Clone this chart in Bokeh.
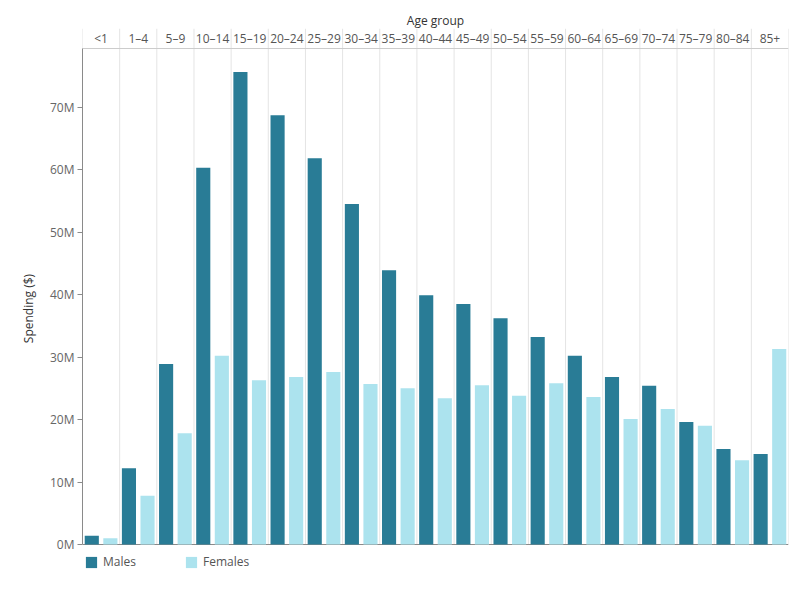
from bokeh.plotting import figure
from bokeh.models import (FactorRange, Range1d, Span, FixedTicker, PrintfTickFormatter,
                          Legend, LegendItem, ColumnDataSource)
from bokeh.embed import file_html
from bokeh.resources import INLINE
from bokeh.core.properties import value

# Spending by age group and sex, in millions of dollars
age_groups = ["<1", "1–4", "5–9", "10–14", "15–19", "20–24", "25–29", "30–34", "35–39",
              "40–44", "45–49", "50–54", "55–59", "60–64", "65–69", "70–74", "75–79",
              "80–84", "85+"]
males_m = [1.4, 12.2, 28.9, 60.3, 75.6, 68.7, 61.8, 54.5, 43.9, 39.9, 38.5, 36.2, 33.2,
           30.2, 26.8, 25.4, 19.6, 15.3, 14.5]
females_m = [1.0, 7.8, 17.8, 30.2, 26.3, 26.8, 27.6, 25.7, 25.0, 23.4, 25.5, 23.8, 25.8,
             23.6, 20.1, 21.7, 19.0, 13.5, 31.3]
sexes = ["Males", "Females"]
y_ticks = [0, 10, 20, 30, 40, 50, 60, 70]

MALE_COLOR = "#297C96"
FEMALE_COLOR = "#ACE3EE"
FONT = "Open Sans"

# value scale top, header strip above it, and room for the legend below zero
PLOT_TOP = 79.36
FRAME_TOP = 82.56
FRAME_BOTTOM = -7.04

factors = [(a, s) for a in age_groups for s in sexes]
x_range = FactorRange(*factors, range_padding=0, group_padding=0, factor_padding=0)

p = figure(width=800, height=600, x_range=x_range, y_range=Range1d(FRAME_BOTTOM, FRAME_TOP),
           output_backend="svg", toolbar_location=None,
           min_border_left=82, min_border_right=12, min_border_top=28, min_border_bottom=12)

p.title.text = "Age group"
p.title.align = "center"
p.title.text_font = FONT
p.title.text_font_size = "12px"
p.title.text_font_style = "normal"
p.title.text_color = "#333333"
p.title.standoff = 0

p.outline_line_color = None
p.xgrid.visible = False
p.ygrid.visible = False
p.xaxis.visible = False

# group separators through header and plot area
n_groups = len(age_groups)
sep_x = [2 * i for i in range(n_groups + 1)]
p.segment(x0=sep_x, y0=[0] * len(sep_x), x1=sep_x, y1=[FRAME_TOP] * len(sep_x),
          line_color="#e4e4e4", line_width=1, level="underlay")
p.segment(x0=[0], y0=[PLOT_TOP], x1=[2 * n_groups], y1=[PLOT_TOP],
          line_color="#cccccc", line_width=1)
p.segment(x0=[0], y0=[0], x1=[2 * n_groups], y1=[0], line_color="#8a8a8a", line_width=1)

src_m = ColumnDataSource(dict(x=[(a, "Males") for a in age_groups], top=males_m))
src_f = ColumnDataSource(dict(x=[(a, "Females") for a in age_groups], top=females_m))
r_m = p.vbar(x="x", top="top", width=0.76, source=src_m, fill_color=MALE_COLOR, line_color=None)
r_f = p.vbar(x="x", top="top", width=0.76, source=src_f, fill_color=FEMALE_COLOR, line_color=None)

# age group header labels
p.text(x=age_groups, y=[(PLOT_TOP + FRAME_TOP) / 2] * n_groups, text=age_groups,
       text_align="center", text_baseline="middle", text_font=value(FONT),
       text_font_size="12px", text_color="#555555")

yax = p.yaxis[0]
yax.ticker = FixedTicker(ticks=y_ticks)
yax.formatter = PrintfTickFormatter(format="%dM")
yax.bounds = (0, PLOT_TOP)
yax.axis_label = "Spending ($)"
yax.axis_label_text_font = FONT
yax.axis_label_text_font_size = "12px"
yax.axis_label_text_font_style = "normal"
yax.axis_label_text_color = "#333333"
yax.axis_label_standoff = 10
yax.major_label_text_font = FONT
yax.major_label_text_font_size = "12px"
yax.major_label_text_color = "#666666"
yax.major_label_standoff = 3
yax.major_tick_in = 0
yax.major_tick_out = 5
yax.minor_tick_line_color = None
yax.axis_line_color = "#8a8a8a"
yax.major_tick_line_color = "#8a8a8a"

# legend sits just under the baseline
legend = Legend(items=[LegendItem(label="Males", renderers=[r_m]),
                       LegendItem(label="Females", renderers=[r_f])],
                orientation="horizontal", location=(2, 18),
                glyph_width=14, glyph_height=14, label_height=14,
                label_text_font=FONT, label_text_font_size="12px", label_text_color="#555555",
                label_standoff=5, label_width=60, spacing=21,
                margin=0, padding=0, border_line_color=None, background_fill_alpha=0)
p.add_layout(legend, "center")

open("out.html", "w").write(file_html(p, INLINE))
